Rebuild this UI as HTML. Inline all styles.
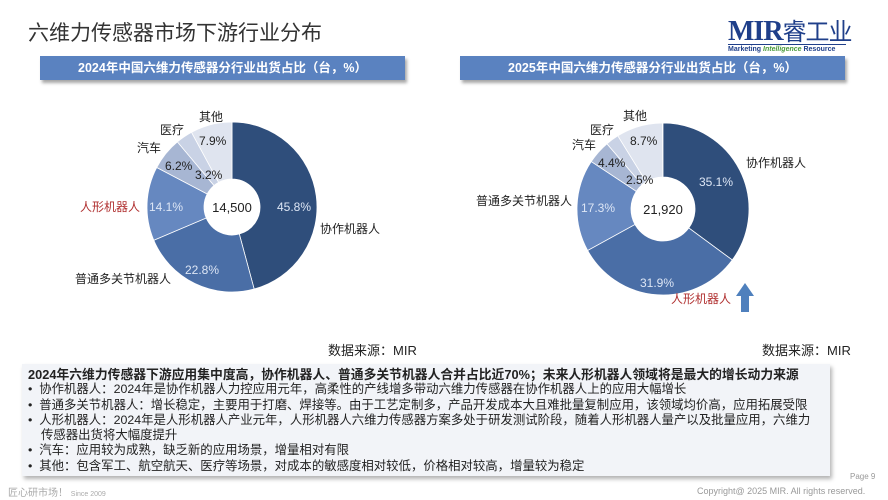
<!DOCTYPE html>
<html><head><meta charset="utf-8"><style>
body{margin:0;width:888px;height:500px;background:#fff;position:relative;overflow:hidden;font-family:"Liberation Sans","Noto Sans CJK SC",sans-serif;color:#222}
.a{position:absolute;white-space:nowrap}
.bar{position:absolute;height:24px;background:#5a82c0;color:#fff;font-weight:bold;font-size:12.5px;text-align:center;line-height:24px;box-shadow:2px 3px 3px rgba(0,0,0,.35)}
.box{position:absolute;left:22px;top:364px;width:808px;height:112px;background:#f2f4f8;box-shadow:2px 3px 4px rgba(0,0,0,.3)}
.box div{font-size:12.4px;line-height:15.3px;color:#222}
</style></head><body>
<div class="a" style="left:28px;top:17px;font-size:21px;color:#333">六维力传感器市场下游行业分布</div>
<div class="a" style="left:728px;top:12px;font-family:'Liberation Serif','Noto Serif CJK SC',serif;font-size:28px;font-weight:bold;color:#1f3f8a;letter-spacing:-1px">MIR<span style="font-family:'Noto Sans CJK SC',sans-serif;font-weight:normal;font-size:24px">睿工业</span></div>
<div class="a" style="left:728px;top:44px;width:118px;border-top:1.5px solid #1f3f8a;font-size:7px;font-weight:bold;color:#1f3f8a;padding-top:1px">Marketing <i style="color:#4a9a3a">Intelligence</i> Resource</div>
<div class="bar" style="left:40px;top:56px;width:365px">2024年中国六维力传感器分行业出货占比（台，%）</div>
<div class="bar" style="left:460px;top:56px;width:385px">2025年中国六维力传感器分行业出货占比（台，%）</div>
<svg id="s" class="a" style="left:0;top:0" width="888" height="360"></svg>
<div class="a" style="left:328px;top:340px;font-size:13px">数据来源：MIR</div>
<div class="a" style="left:762px;top:340px;font-size:13px">数据来源：MIR</div>
<div class="box"><div style="padding:3px 0 0 6px">
<div style="font-weight:bold;font-size:12.8px">2024年六维力传感器下游应用集中度高，协作机器人、普通多关节机器人合并占比近70%；未来人形机器人领域将是最大的增长动力来源</div>
<div>•&nbsp; 协作机器人：2024年是协作机器人力控应用元年，高柔性的产线增多带动六维力传感器在协作机器人上的应用大幅增长</div>
<div>•&nbsp; 普通多关节机器人：增长稳定，主要用于打磨、焊接等。由于工艺定制多，产品开发成本大且难批量复制应用，该领域均价高，应用拓展受限</div>
<div>•&nbsp; 人形机器人：2024年是人形机器人产业元年，人形机器人六维力传感器方案多处于研发测试阶段，随着人形机器人量产以及批量应用，六维力</div>
<div style="padding-left:13px">传感器出货将大幅度提升</div>
<div>•&nbsp; 汽车：应用较为成熟，缺乏新的应用场景，增量相对有限</div>
<div>•&nbsp; 其他：包含军工、航空航天、医疗等场景，对成本的敏感度相对较低，价格相对较高，增量较为稳定</div>
</div></div>
<div class="a" style="left:8px;top:484px;font-size:10px;color:#aaa">匠心研市场！ <span style="font-size:7px">Since 2009</span></div>
<div class="a" style="left:850px;top:472px;font-size:8px;color:#999">Page 9</div>
<div class="a" style="left:697px;top:486px;font-size:9px;color:#999">Copyright@ 2025 MIR. All rights reserved.</div>
<script>
var s=document.getElementById('s'),ns='http://www.w3.org/2000/svg';
function pie(cx,cy,R,r,data,center){var a=0;data.forEach(function(d){var a0=a,a1=a+d[0]/100*2*Math.PI;a=a1;
function p(rr,t){return [cx+rr*Math.sin(t),cy-rr*Math.cos(t)]}
var l=(a1-a0)>Math.PI?1:0,P1=p(R,a0),P2=p(R,a1),P3=p(r,a1),P4=p(r,a0);
var e=document.createElementNS(ns,'path');e.setAttribute('d','M'+P1+'A'+R+','+R+' 0 '+l+' 1 '+P2+'L'+P3+'A'+r+','+r+' 0 '+l+' 0 '+P4+'Z');e.setAttribute('fill',d[1]);e.setAttribute('stroke','#fff');e.setAttribute('stroke-width','0.8');s.appendChild(e);});
var c=document.createElementNS(ns,'text');c.setAttribute('x',cx);c.setAttribute('y',cy+5);c.setAttribute('text-anchor','middle');c.setAttribute('font-size','13');c.setAttribute('fill','#222');c.textContent=center;s.appendChild(c);}
function t(x,y,str,col,sz){var e=document.createElementNS(ns,'text');e.setAttribute('x',x);e.setAttribute('y',y);e.setAttribute('font-size',sz||12);e.setAttribute('fill',col||'#222');e.setAttribute('font-family','Liberation Sans, Noto Sans CJK SC, sans-serif');e.textContent=str;s.appendChild(e);}
pie(232,207,85,28,[[45.8,'#2f4e7b'],[22.8,'#4a6ea6'],[14.1,'#6688c0'],[6.2,'#a7b6d3'],[3.2,'#c9d2e5'],[7.9,'#dfe4ef']],'14,500');
pie(663,209,86,32,[[35.1,'#2f4e7b'],[31.9,'#4a6ea6'],[17.3,'#6688c0'],[4.4,'#a7b6d3'],[2.5,'#c9d2e5'],[8.7,'#dfe4ef']],'21,920');
t(277,211,'45.8%','#dde6f5');t(185,274,'22.8%','#dde6f5');t(149,211,'14.1%','#dde6f5');t(165,170,'6.2%');t(195,179,'3.2%');t(199,145,'7.9%');
t(199,121,'其他');t(160,134,'医疗');t(137,152,'汽车');t(80,211,'人形机器人','#b03030');t(75,283,'普通多关节机器人');t(320,233,'协作机器人');
t(699,186,'35.1%','#dde6f5');t(640,287,'31.9%','#dde6f5');t(581,212,'17.3%','#dde6f5');t(598,167,'4.4%');t(626,184,'2.5%');t(630,145,'8.7%');
t(623,120,'其他');t(590,134,'医疗');t(572,149,'汽车');t(476,205,'普通多关节机器人');t(746,167,'协作机器人');t(671,303,'人形机器人','#b03030');
var ar=document.createElementNS(ns,'path');ar.setAttribute('d','M741,312 L741,296 L736,296 L745,283 L754,296 L749,296 L749,312Z');ar.setAttribute('fill','#4f80bd');s.appendChild(ar);
</script>
</body></html>
